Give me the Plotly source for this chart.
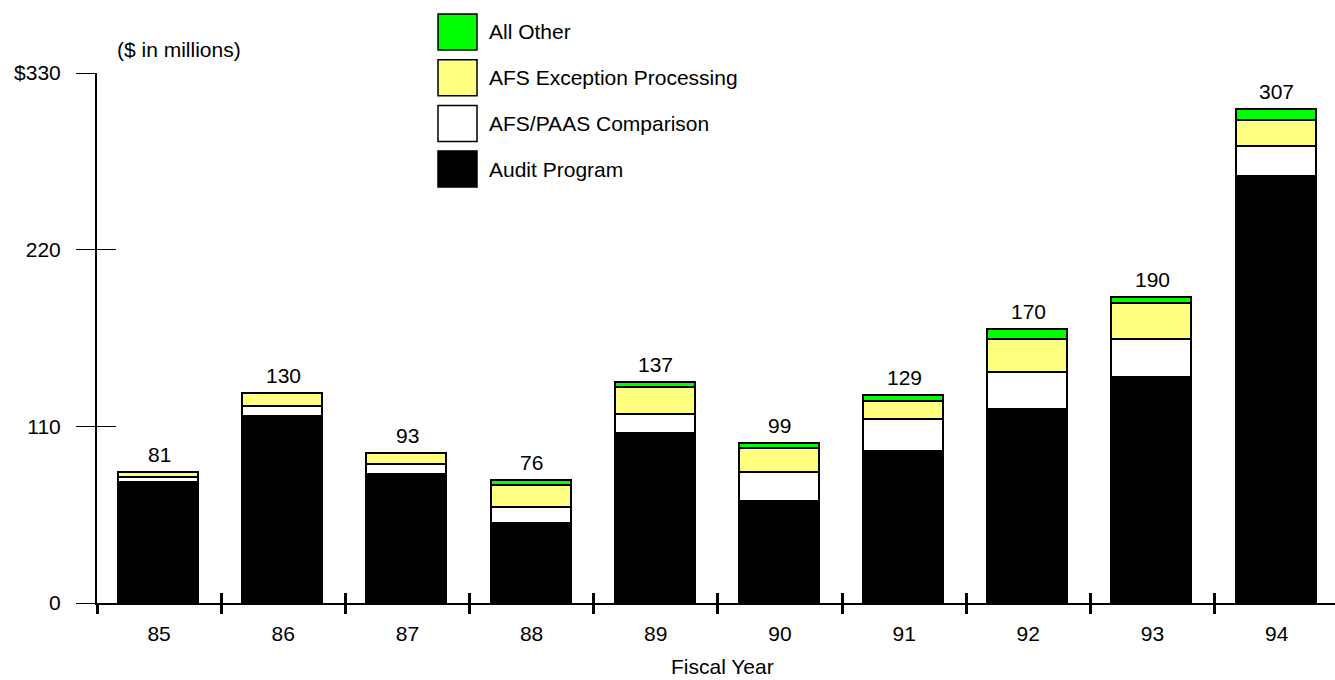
import plotly.graph_objects as go

# Fiscal years and cost components ($ in millions)
years = ["85", "86", "87", "88", "89", "90", "91", "92", "93", "94"]
audit_program = [75, 116, 80, 49, 105, 63, 94, 120, 140, 265]
afs_paas_comparison = [3, 6, 6, 10, 12, 18, 20, 23, 24, 19]
afs_exception_processing = [3, 8, 7, 14, 17, 15, 11, 21, 22, 16]
all_other = [0, 0, 0, 3, 3, 3, 4, 6, 4, 7]

y_tick_vals = [0, 110, 220, 330]
y_tick_text = ["0", "110", "220", "$330"]

series = [
    ("Audit Program", audit_program, "#000000"),
    ("AFS/PAAS Comparison", afs_paas_comparison, "#FFFFFF"),
    ("AFS Exception Processing", afs_exception_processing, "#FFFF80"),
    ("All Other", all_other, "#00FF00"),
]

FONT = "Liberation Sans, Arial, sans-serif"
FS = 21

# page geometry (pixels)
W_PX, H_PX = 1335, 680
M_L, M_R, M_T, M_B = 97, 0, 73, 77
PW = W_PX - M_L - M_R
PH = H_PX - M_T - M_B


def px_x(px):
    return (px - M_L) / PW


def px_y(py):
    return (H_PX - M_B - py) / PH


fig = go.Figure()
for name, vals, color in series:
    fig.add_trace(go.Bar(
        x=years, y=vals, name=name, width=0.644,
        marker=dict(color=color, line=dict(color="#000000", width=1.6)),
        showlegend=False, hoverinfo="x+y+name",
    ))

# helper trace carrying the overlay axes used for the crossing tick marks
fig.add_trace(go.Scatter(
    x=years, y=[0] * len(years), xaxis="x2", yaxis="y2", mode="markers",
    marker=dict(opacity=0), showlegend=False, hoverinfo="skip",
))

# totals above each bar (category index used as the x position)
totals = [sum(v) for v in zip(audit_program, afs_paas_comparison,
                             afs_exception_processing, all_other)]
annotations = []
for i, tot in enumerate(totals):
    annotations.append(dict(
        x=i, y=tot, xref="x", yref="y", text=str(tot), showarrow=False,
        yanchor="bottom", yshift=5, font=dict(family=FONT, size=FS, color="#000"),
    ))

annotations.append(dict(
    x=px_x(179), y=px_y(50), xref="paper", yref="paper", text="($ in millions)",
    showarrow=False, xanchor="center", yanchor="middle",
    font=dict(family=FONT, size=FS, color="#000"),
))
annotations.append(dict(
    x=px_x(722), y=px_y(680), xref="paper", yref="paper", text="Fiscal Year",
    showarrow=False, xanchor="center", yanchor="bottom",
    font=dict(family=FONT, size=FS, color="#000"),
))

# legend drawn as large swatches
shapes = []
legend_rows = list(reversed(series))
for i, (name, vals, color) in enumerate(legend_rows):
    cy = 32 + i * 45.7
    shapes.append(dict(
        type="rect", xref="paper", yref="paper",
        x0=px_x(438), x1=px_x(477), y0=px_y(cy + 18), y1=px_y(cy - 18),
        fillcolor=color, line=dict(color="#000", width=1.5),
    ))
    annotations.append(dict(
        x=px_x(487), y=px_y(cy), xref="paper", yref="paper", text=name,
        showarrow=False, xanchor="left", yanchor="middle",
        font=dict(family=FONT, size=FS, color="#000"),
    ))

x_range = [-0.5, 9.47]
y_range = [0, 330]

fig.update_layout(
    barmode="stack",
    width=W_PX, height=H_PX,
    margin=dict(l=M_L, r=M_R, t=M_T, b=M_B, pad=0),
    paper_bgcolor="#FFFFFF", plot_bgcolor="#FFFFFF",
    font=dict(family=FONT, size=FS, color="#000"),
    xaxis=dict(
        type="category", categoryorder="array", categoryarray=years,
        range=x_range, tickson="boundaries", ticks="outside", ticklen=9,
        tickwidth=2.5, tickcolor="#000", showline=True, linecolor="#000",
        linewidth=2, showgrid=False, zeroline=False, fixedrange=True,
        tickfont=dict(family=FONT, size=FS, color="#000"), ticklabelstandoff=11,
    ),
    yaxis=dict(
        range=y_range, tickmode="array", tickvals=y_tick_vals, ticktext=y_tick_text,
        ticks="outside", ticklen=19, tickwidth=1.3, tickcolor="#000",
        showline=True, linecolor="#000", linewidth=2, showgrid=False,
        zeroline=False, fixedrange=True,
        tickfont=dict(family=FONT, size=FS, color="#000"), ticklabelstandoff=11,
    ),
    xaxis2=dict(
        type="category", categoryorder="array", categoryarray=years,
        overlaying="x", anchor="y2", side="bottom", range=x_range,
        tickson="boundaries", ticks="inside", ticklen=10, tickwidth=2.5,
        tickcolor="#000", showticklabels=False, showline=False,
        showgrid=False, zeroline=False, fixedrange=True,
    ),
    yaxis2=dict(
        overlaying="y", anchor="x2", side="left", range=y_range,
        tickmode="array", tickvals=y_tick_vals, ticks="inside", ticklen=19,
        tickwidth=1.3, tickcolor="#000", showticklabels=False, showline=False,
        showgrid=False, zeroline=False, fixedrange=True,
    ),
    shapes=shapes,
    annotations=annotations,
    bargap=0,
)

fig.write_html("out.html", config={"displayModeBar": False})
